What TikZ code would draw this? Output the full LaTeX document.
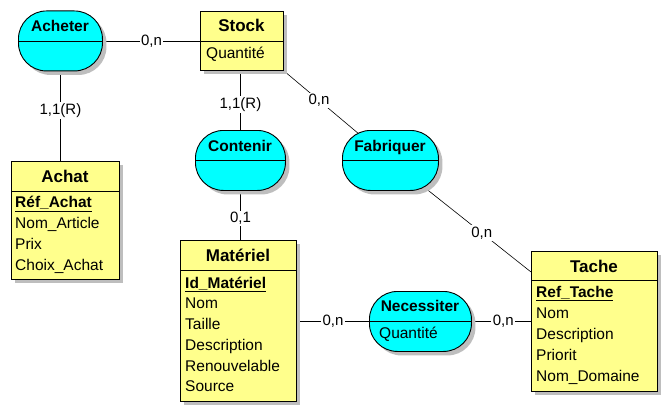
\documentclass[tikz,border=0pt]{standalone}
\usepackage{fontspec}
\setmainfont{Liberation Sans}
\usetikzlibrary{shadows,backgrounds}
\definecolor{entyellow}{RGB}{255,255,140}
\definecolor{relcyan}{RGB}{0,255,255}
\definecolor{shadowgray}{RGB}{190,190,190}
\tikzset{
 myshadow/.style={drop shadow={shadow xshift=4pt, shadow yshift=-4pt, fill=shadowgray, opacity=1}},
 entity/.style={draw, fill=entyellow, line width=0.9pt, rectangle, anchor=north west, inner sep=0pt, myshadow},
 relation/.style={draw, fill=relcyan, line width=0.9pt, rectangle, rounded corners=28pt, anchor=north west, inner sep=0pt, myshadow},
 ttl/.style={font=\fontsize{17}{20}\selectfont\bfseries, inner sep=0pt, text height=12pt, text depth=0pt},
 rtl/.style={font=\fontsize{15.5}{18}\selectfont\bfseries, inner sep=0pt, text height=11pt, text depth=0pt},
 attr/.style={font=\fontsize{15.5}{18}\selectfont, anchor=west, inner sep=0pt, text height=11pt, text depth=0pt},
 card/.style={font=\fontsize{15}{18}\selectfont, fill=white, inner sep=1.5pt},
 link/.style={line width=0.9pt},
 dlink/.style={line width=0.6pt},
 divider/.style={line width=0.9pt},
}
\begin{document}
\begin{tikzpicture}[x=1pt,y=-1pt]
\useasboundingbox (0,0) rectangle (667,412);
% ---- entities ----
\node[entity, minimum width=83pt, minimum height=59pt] (stock) at (200,11) {};
\draw[divider] (stock.west |- 0,41) -- (stock.east |- 0,41);
\node[ttl] (stockT) at (241.5,26) {Stock};
\node[attr] (stockA1) at (206,53) {Quantité};

\node[entity, minimum width=108pt, minimum height=118pt] (achat) at (11,161) {};
\draw[divider] (achat.west |- 0,191) -- (achat.east |- 0,191);
\node[ttl] (achatT) at (65,176) {Achat};
\node[attr] (achatA1) at (15,202) {\underline{\textbf{Réf\_Achat}}};
\node[attr] (achatA2) at (15,222.5) {Nom\_Article};
\node[attr] (achatA3) at (15,243.5) {Prix};
\node[attr] (achatA4) at (15,264.5) {Choix\_Achat};

\node[entity, minimum width=116pt, minimum height=161pt] (materiel) at (180,240) {};
\draw[divider] (materiel.west |- 0,270) -- (materiel.east |- 0,270);
\node[ttl] (materielT) at (238,255) {Matériel};
\node[attr] (materielA1) at (185,282.5) {\underline{\textbf{Id\_Matériel}}};
\node[attr] (materielA2) at (185,303.3) {Nom};
\node[attr] (materielA3) at (185,324) {Taille};
\node[attr] (materielA4) at (185,344.7) {Description};
\node[attr] (materielA5) at (185,365.5) {Renouvelable};
\node[attr] (materielA6) at (185,386.3) {Source};

\node[entity, minimum width=126pt, minimum height=140pt] (tache) at (531,251) {};
\draw[divider] (tache.west |- 0,280) -- (tache.east |- 0,280);
\node[ttl] (tacheT) at (594,266) {Tache};
\node[attr] (tacheA1) at (536,291.7) {\underline{\textbf{Ref\_Tache}}};
\node[attr] (tacheA2) at (536,312.7) {Nom};
\node[attr] (tacheA3) at (536,333.7) {Description};
\node[attr] (tacheA4) at (536,354.7) {Priorit};
\node[attr] (tacheA5) at (536,375.7) {Nom\_Domaine};

% ---- relations ----
\node[relation, minimum width=84pt, minimum height=60pt] (acheter) at (18,10.5) {};
\draw[divider] (acheter.west |- 0,41) -- (acheter.east |- 0,41);
\node[rtl] (acheterT) at (60,26) {Acheter};

\node[relation, minimum width=90pt, minimum height=60pt] (contenir) at (195,130) {};
\draw[divider] (contenir.west |- 0,160) -- (contenir.east |- 0,160);
\node[rtl] (contenirT) at (240,146) {Contenir};

\node[relation, minimum width=96pt, minimum height=60pt] (fabriquer) at (342,130) {};
\draw[divider] (fabriquer.west |- 0,160) -- (fabriquer.east |- 0,160);
\node[rtl] (fabriquerT) at (390,146) {Fabriquer};

\node[relation, minimum width=102pt, minimum height=60pt] (necessiter) at (369,291) {};
\draw[divider] (necessiter.west |- 0,321) -- (necessiter.east |- 0,321);
\node[rtl] (necessiterT) at (420,306) {Necessiter};
\node[attr] (necessiterA1) at (379,332.5) {Quantité};

\coordinate (tacheIn) at (tache.west |- 0,272);

% ---- connectors ----
\begin{pgfonlayer}{background}
\fill[white] (0,0) rectangle (667,412);
\draw[link] (acheter.east |- 0,41) -- node[card] (c1) {0,n} (stock.west |- 0,41);
\draw[link] (acheter.center) -- node[card, pos=0.58] (c2) {1,1(R)} (acheter.center |- achat.north);
\draw[link] (contenir.center) -- node[card, pos=0.62] (c3) {1,1(R)} (contenir.center |- stock.south);
\draw[link] (contenir.center) -- node[card, pos=0.73] (c4) {0,1} (contenir.center |- materiel.north);
\draw[dlink] (stock.south east) -- node[card, pos=0.33] (c5) {0,n} (fabriquer.center);
\draw[dlink] (fabriquer.center) -- node[card, pos=0.65] (c6) {0,n} (tacheIn);
\draw[link] (materiel.east |- 0,321) -- node[card] (c7) {0,n} (necessiter.west |- 0,321);
\draw[link] (necessiter.east |- 0,321) -- node[card, pos=0.53] (c8) {0,n} (tache.west |- 0,321);
\end{pgfonlayer}
\end{tikzpicture}
\end{document}
